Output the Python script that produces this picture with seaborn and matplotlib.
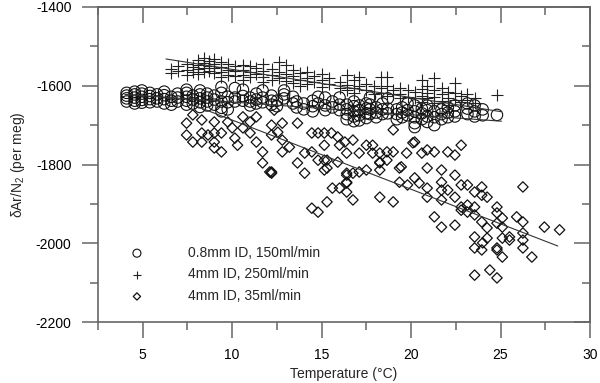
import numpy as np
import pandas as pd
import matplotlib
matplotlib.use('Agg')
import matplotlib.pyplot as plt
import seaborn as sns
from matplotlib.ticker import MultipleLocator

# 0.8mm ID, 150ml/min  (temperature, dAr/N2)
circles = [
    (4.1, -1618), (4.1, -1625), (4.1, -1632), (4.1, -1640),
    (4.55, -1615), (4.55, -1622), (4.55, -1630), (4.55, -1638), (4.55, -1645),
    (4.95, -1612), (4.95, -1620), (4.95, -1628), (4.95, -1636), (4.95, -1643),
    (5.4, -1618), (5.4, -1626), (5.4, -1634), (5.4, -1642),
    (5.8, -1622), (5.8, -1632), (5.8, -1640),
    (6.2, -1615), (6.2, -1624), (6.2, -1634), (6.2, -1645),
    (6.6, -1628), (6.6, -1638), (6.6, -1648),
    (6.95, -1620), (6.95, -1630), (6.95, -1640),
    (7.45, -1610), (7.45, -1618), (7.45, -1628), (7.45, -1638), (7.45, -1648),
    (7.8, -1625), (7.8, -1635), (7.8, -1645),
    (8.2, -1612), (8.2, -1622), (8.2, -1632), (8.2, -1642), (8.2, -1654),
    (8.6, -1620), (8.6, -1630), (8.6, -1640), (8.6, -1650),
    (9.0, -1625), (9.0, -1635), (9.0, -1648),
    (9.4, -1603), (9.4, -1618), (9.4, -1640), (9.4, -1656), (9.4, -1665),
    (9.75, -1628), (9.75, -1642), (9.75, -1660),
    (10.15, -1606), (10.15, -1630), (10.15, -1640),
    (10.6, -1610), (10.6, -1626), (10.6, -1638),
    (11.0, -1630), (11.0, -1640), (11.0, -1650),
    (11.35, -1620), (11.35, -1635), (11.35, -1645),
    (11.7, -1612), (11.7, -1630), (11.7, -1642),
    (12.2, -1625), (12.2, -1638), (12.2, -1648),
    (12.5, -1638), (12.5, -1652),
    (12.9, -1612), (12.9, -1622), (12.9, -1632),
    (13.4, -1628), (13.4, -1645),
    (13.6, -1640), (13.6, -1655),
    (14.0, -1645), (14.0, -1660),
    (14.5, -1638), (14.5, -1652), (14.5, -1665),
    (14.8, -1628), (14.8, -1645),
    (15.2, -1630), (15.2, -1650), (15.2, -1662),
    (15.6, -1640), (15.6, -1655),
    (16.0, -1630), (16.0, -1648), (16.0, -1662),
    (16.4, -1648), (16.4, -1660), (16.4, -1672), (16.4, -1685),
    (16.8, -1640), (16.8, -1652), (16.8, -1665), (16.8, -1678), (16.8, -1690),
    (17.1, -1650), (17.1, -1662), (17.1, -1675), (17.1, -1688),
    (17.5, -1645), (17.5, -1658), (17.5, -1670), (17.5, -1682),
    (17.7, -1630), (17.7, -1648), (17.7, -1660), (17.7, -1672),
    (18.05, -1655), (18.05, -1668), (18.05, -1680),
    (18.4, -1645), (18.4, -1660), (18.4, -1672),
    (18.7, -1632), (18.7, -1658), (18.7, -1670),
    (19.2, -1660), (19.2, -1672), (19.2, -1685),
    (19.5, -1655), (19.5, -1668), (19.5, -1680),
    (19.8, -1645), (19.8, -1662), (19.8, -1675),
    (20.2, -1650), (20.2, -1665), (20.2, -1680), (20.2, -1695), (20.2, -1705),
    (20.6, -1658), (20.6, -1670), (20.6, -1685),
    (20.9, -1650), (20.9, -1662), (20.9, -1678), (20.9, -1692),
    (21.3, -1665), (21.3, -1680), (21.3, -1700),
    (21.7, -1660), (21.7, -1672), (21.7, -1685),
    (22.05, -1655), (22.05, -1668), (22.05, -1680),
    (22.45, -1650), (22.45, -1665), (22.45, -1678),
    (23.15, -1645), (23.15, -1658), (23.15, -1672),
    (23.55, -1650), (23.55, -1665), (23.55, -1678),
    (24.0, -1660), (24.0, -1675),
    (24.8, -1674),
]

# 4mm ID, 250ml/min
pluses = [
    (6.6, -1557), (6.6, -1568), (6.95, -1550), (6.95, -1563),
    (7.45, -1545), (7.45, -1560), (7.45, -1572), (7.8, -1552), (7.8, -1565),
    (8.1, -1535), (8.1, -1548), (8.1, -1558), (8.1, -1570),
    (8.4, -1530), (8.4, -1542), (8.4, -1555), (8.4, -1565),
    (8.7, -1538), (8.7, -1550), (8.7, -1562),
    (9.0, -1532), (9.0, -1545), (9.0, -1556), (9.0, -1568),
    (9.4, -1540), (9.4, -1552), (9.4, -1565), (9.4, -1578),
    (9.75, -1545), (9.75, -1560), (9.75, -1572),
    (10.15, -1550), (10.15, -1562), (10.15, -1575),
    (10.6, -1548), (10.6, -1560), (10.6, -1572), (10.6, -1585),
    (11.0, -1550), (11.0, -1565), (11.0, -1578),
    (11.35, -1555), (11.35, -1570),
    (11.7, -1545), (11.7, -1562), (11.7, -1578), (11.7, -1590),
    (12.2, -1558), (12.2, -1572), (12.2, -1585),
    (12.6, -1540), (12.6, -1565), (12.6, -1580),
    (13.0, -1548), (13.0, -1570), (13.0, -1588),
    (13.4, -1560), (13.4, -1575), (13.4, -1592),
    (13.8, -1568), (13.8, -1585), (13.8, -1600),
    (14.2, -1565), (14.2, -1580), (14.2, -1595),
    (14.6, -1575), (14.6, -1590),
    (15.0, -1570), (15.0, -1585), (15.0, -1602),
    (15.4, -1580), (15.4, -1595),
    (16.0, -1590), (16.0, -1605),
    (16.4, -1573), (16.4, -1598), (16.4, -1612),
    (16.8, -1585), (16.8, -1605), (16.8, -1618),
    (17.1, -1578), (17.1, -1600),
    (17.5, -1595), (17.5, -1610),
    (17.9, -1600), (17.9, -1620),
    (18.3, -1578), (18.3, -1605), (18.3, -1618),
    (18.65, -1578), (18.65, -1600), (18.65, -1625),
    (19.0, -1610), (19.0, -1622),
    (19.4, -1605), (19.4, -1620), (19.4, -1630),
    (19.8, -1612), (19.8, -1628),
    (20.2, -1615), (20.2, -1630),
    (20.6, -1585), (20.6, -1608), (20.6, -1625), (20.6, -1640),
    (20.9, -1600), (20.9, -1618), (20.9, -1632),
    (21.3, -1580), (21.3, -1612), (21.3, -1628), (21.3, -1645),
    (21.7, -1605), (21.7, -1622), (21.7, -1638),
    (22.05, -1615), (22.05, -1632), (22.05, -1648),
    (22.45, -1593), (22.45, -1618), (22.45, -1635),
    (22.8, -1625), (22.8, -1640),
    (23.15, -1620), (23.15, -1635),
    (23.55, -1630), (23.55, -1645),
    (24.8, -1624),
]

# 4mm ID, 35ml/min
diamonds = [
    (7.45, -1695), (7.8, -1674), (8.3, -1687), (7.45, -1725), (7.8, -1743),
    (8.3, -1720), (8.3, -1743), (8.65, -1725), (9.0, -1692), (9.0, -1720),
    (9.0, -1743), (9.0, -1758), (9.4, -1720), (9.4, -1768), (9.75, -1692),
    (10.0, -1707), (10.15, -1733), (10.3, -1751), (10.6, -1679), (10.6, -1707),
    (11.0, -1692), (11.0, -1720), (11.35, -1679), (11.35, -1743), (11.7, -1768),
    (11.7, -1796), (12.2, -1819), (12.2, -1700), (12.2, -1725),
    (12.35, -1662), (12.8, -1695), (12.55, -1718), (12.8, -1738), (13.2, -1756),
    (13.65, -1695), (14.05, -1771), (13.65, -1796), (12.2, -1822), (14.05, -1822),
    (14.45, -1720), (14.8, -1720), (15.15, -1720), (15.55, -1720), (15.9, -1730),
    (16.3, -1743), (16.75, -1738), (15.15, -1751), (16.0, -1751), (16.4, -1771),
    (17.1, -1771), (17.5, -1751), (17.85, -1751), (17.85, -1771), (18.25, -1771),
    (18.65, -1768), (19.0, -1768), (18.25, -1794), (18.65, -1789), (19.0, -1712),
    (19.75, -1771), (20.1, -1745), (14.45, -1768), (14.8, -1789), (15.15, -1789),
    (15.9, -1794), (15.15, -1814), (16.4, -1822), (16.75, -1822), (17.1, -1819),
    (17.5, -1814), (18.25, -1814), (19.35, -1809), (15.6, -1860), (16.0, -1860),
    (16.4, -1845), (16.4, -1870), (19.35, -1845), (19.8, -1852), (20.2, -1834),
    (20.2, -1743), (20.6, -1771), (20.9, -1763), (21.3, -1768), (22.05, -1768),
    (22.45, -1776), (22.8, -1751),
    (12.1, -1819), (12.8, -1768), (15.3, -1789), (15.3, -1809), (16.4, -1827),
    (16.4, -1847), (16.75, -1890), (14.45, -1911), (14.8, -1921), (15.3, -1895),
    (18.25, -1796), (18.25, -1883), (19.0, -1895), (19.45, -1806), (20.45, -1847),
    (20.9, -1809), (20.9, -1860), (20.9, -1883), (21.7, -1814), (21.7, -1845),
    (21.7, -1865), (21.7, -1890), (21.3, -1933), (21.7, -1959), (22.05, -1865),
    (22.45, -1827), (22.45, -1883), (22.45, -1954), (22.8, -1852), (22.8, -1916),
    (23.15, -1852), (23.15, -1903), (23.55, -1870), (23.55, -1908), (23.55, -1928),
    (23.95, -1857), (23.95, -1878), (23.95, -1946), (24.25, -1883), (24.25, -1961),
    (24.8, -1908), (24.8, -1923), (24.8, -1949), (24.8, -2017), (25.1, -1936),
    (25.1, -1959), (25.1, -1987), (25.1, -2035), (25.5, -1984), (25.9, -1933),
    (26.25, -1857), (26.25, -1946), (26.25, -1974), (26.25, -1992), (26.25, -2012),
    (26.75, -2035), (27.45, -1959), (28.3, -1966), (23.55, -1984), (23.55, -2012),
    (23.95, -2017), (24.25, -1987), (24.8, -2012), (23.55, -2081), (24.4, -2068),
    (24.8, -2088), (22.8, -1908), (23.15, -1921), (24.0, -1999), (25.5, -1992),
]

# linear fits (end points)
fit_circle_x = [4.0, 25.05]
fit_circle_y = [-1622, -1690]
fit_plus_x = [6.3, 25.05]
fit_plus_y = [-1532, -1666]
fit_diamond_x = [8.0, 28.2]
fit_diamond_y = [-1652, -2007]

labels = ['0.8mm ID, 150ml/min', '4mm ID, 250ml/min', '4mm ID, 35ml/min']
x_ticks = [5, 10, 15, 20, 25, 30]
y_ticks = [-2200, -2000, -1800, -1600, -1400]

sns.set_theme(style='white')
plt.rcParams['font.family'] = ['Liberation Sans', 'DejaVu Sans']
plt.rcParams['mathtext.default'] = 'regular'
plt.rcParams['axes.unicode_minus'] = False

df_c = pd.DataFrame(circles, columns=['t', 'v'])
df_p = pd.DataFrame(pluses, columns=['t', 'v'])
df_d = pd.DataFrame(diamonds, columns=['t', 'v'])

fig = plt.figure(figsize=(6, 3.83), dpi=100)
ax = fig.add_axes([98/600, 1-322/383, 492/600, 315/383])

sns.scatterplot(data=df_c, x='t', y='v', marker='o', s=68, facecolor='none',
                edgecolor='#111111', linewidth=0.8, label=labels[0], ax=ax)
sns.scatterplot(data=df_p, x='t', y='v', marker='+', s=85, color='#222222',
                linewidth=0.8, label=labels[1], ax=ax)
sns.scatterplot(data=df_d, x='t', y='v', marker='D', s=28, facecolor='none',
                edgecolor='#111111', linewidth=0.9, label=labels[2], ax=ax)

for fx, fy in [(fit_circle_x, fit_circle_y), (fit_plus_x, fit_plus_y),
               (fit_diamond_x, fit_diamond_y)]:
    sns.lineplot(x=fx, y=fy, color='#333333', linewidth=0.8, legend=False, ax=ax)

ax.set_xlim(2.5, 30)
ax.set_ylim(-2200, -1400)
ax.set_xticks(x_ticks)
ax.set_yticks(y_ticks)
ax.xaxis.set_minor_locator(MultipleLocator(2.5))
ax.yaxis.set_minor_locator(MultipleLocator(100))

spine_col = '#666666'
for sp in ax.spines.values():
    sp.set_color(spine_col)
    sp.set_linewidth(1.2)
ax.tick_params(which='both', bottom=True, left=True, top=False, right=False)
ax.tick_params(which='major', direction='out', length=11.5, width=1.1,
               color=spine_col, labelsize=10, pad=7.5, labelcolor='black')
ax.tick_params(which='minor', direction='out', length=6, width=1.1,
               color=spine_col)

top = ax.secondary_xaxis('top')
top.set_xticks(x_ticks)
top.xaxis.set_minor_locator(MultipleLocator(2.5))
top.tick_params(which='both', top=True, bottom=False, labeltop=False)
top.tick_params(which='major', direction='in', length=11.5, width=1.1,
                color=spine_col)
top.tick_params(which='minor', direction='in', length=6, width=1.1, color=spine_col)
top.spines['top'].set_color(spine_col)
top.spines['top'].set_linewidth(1.2)

right = ax.secondary_yaxis('right')
right.set_yticks(y_ticks)
right.yaxis.set_minor_locator(MultipleLocator(100))
right.tick_params(which='both', right=True, left=False, labelright=False)
right.tick_params(which='major', direction='in', length=11.5, width=1.1,
                  color=spine_col)
right.tick_params(which='minor', direction='in', length=6, width=1.1, color=spine_col)
right.spines['right'].set_color(spine_col)
right.spines['right'].set_linewidth(1.2)

ax.set_xlabel('Temperature (°C)', fontsize=10, labelpad=3.5)
ax.set_ylabel('δAr/N$_2$ (per meg)', fontsize=10, labelpad=6)

ax.legend(loc='lower left', bbox_to_anchor=(0.065, 0.06), frameon=False,
          fontsize=10, handlelength=1.0, handletextpad=3.2, labelspacing=0.55,
          borderaxespad=0, borderpad=0, markerscale=0.7)

fig.savefig('out.png', dpi=100)
